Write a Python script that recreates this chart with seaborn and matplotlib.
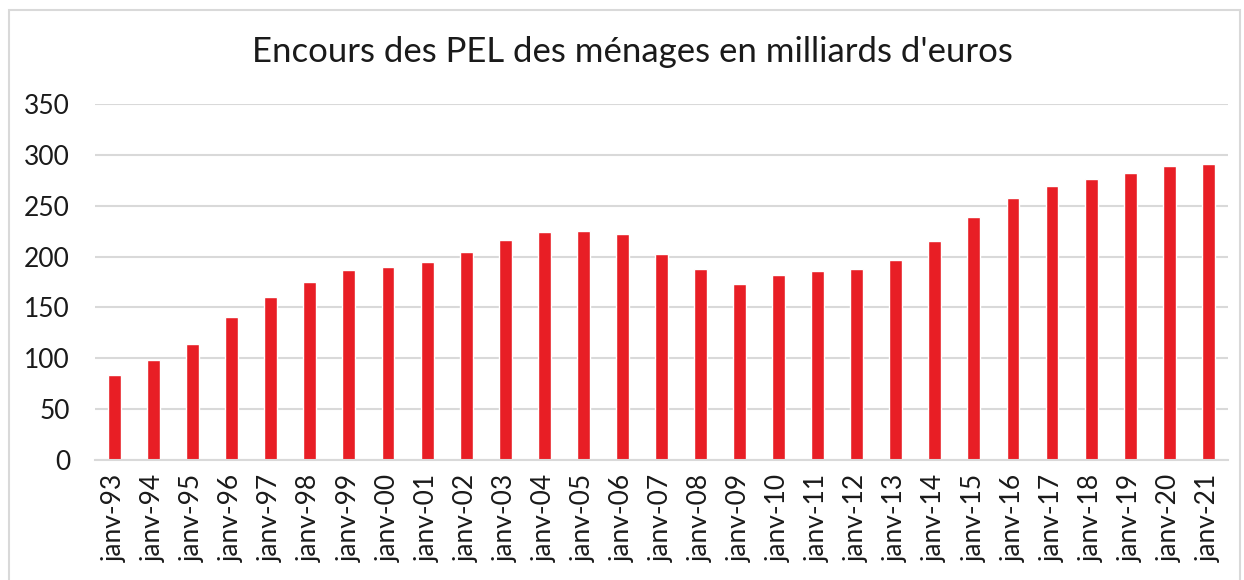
import pandas as pd
import seaborn as sns
import matplotlib.pyplot as plt
from matplotlib.patches import Rectangle

labels = ["janv-%02d" % (y % 100) for y in range(1993, 2022)]
values = [84, 98, 114, 141, 160, 175, 187, 190, 195, 204, 216, 224, 225, 222,
          203, 188, 173, 182, 186, 188, 197, 215, 239, 258, 269, 276, 282, 289, 291]

df = pd.DataFrame({"date": labels, "encours": values})

sns.set_style("white")
plt.rcParams['font.family'] = ['Lato', 'DejaVu Sans']

fig = plt.figure(figsize=(12.44, 5.8), dpi=100)
ax = fig.add_axes([0.0764, 0.2069, 0.9106, 0.6138])

sns.barplot(data=df, x="date", y="encours", color="#E81E25", saturation=1,
            width=0.33, ax=ax)

ax.set_ylim(0, 350)
ax.set_xlim(-0.5, len(labels) - 0.5)
ax.set_yticks(range(0, 351, 50))
ax.yaxis.grid(True, color="#d9d9d9", linewidth=1.5)
ax.set_axisbelow(True)
for s in ["top", "right", "left"]:
    ax.spines[s].set_visible(False)
ax.spines["bottom"].set_color("#d9d9d9")
ax.spines["bottom"].set_linewidth(1.5)
ax.tick_params(axis="both", length=0, labelsize=19, colors="#1a1a1a")
ax.tick_params(axis="y", pad=18)
ax.tick_params(axis="x", labelrotation=90, pad=10)
ax.set_xlabel("")
ax.set_ylabel("")

fig.text(0.508, 0.91, "Encours des PEL des ménages en milliards d'euros",
         ha="center", va="center", fontsize=25, color="#1a1a1a")

fig.patches.append(Rectangle((0.007, -0.02), 0.99, 1.003, transform=fig.transFigure,
                             fill=False, edgecolor="#d9d9d9", linewidth=1.5))

fig.savefig("out.png", dpi=100)
